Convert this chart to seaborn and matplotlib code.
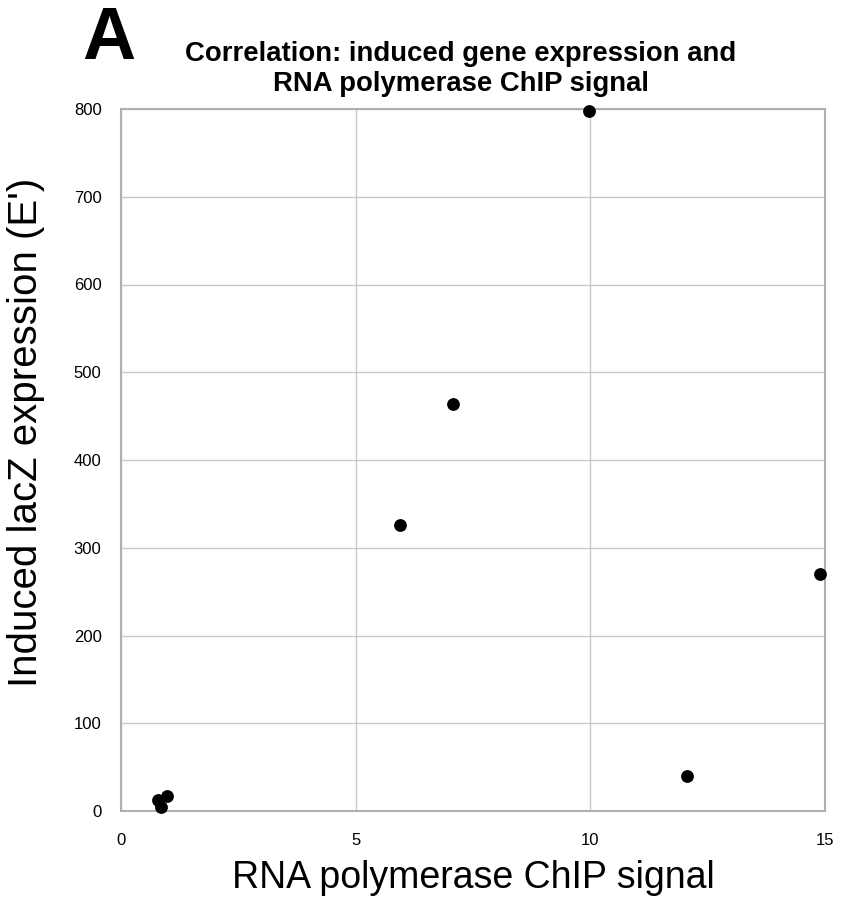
import matplotlib
matplotlib.use("Agg")
import matplotlib.pyplot as plt
import seaborn as sns
import pandas as pd

chip_signal = [0.78, 0.85, 0.98, 5.95, 7.07, 9.98, 12.07, 14.9]
lacz_expression = [12, 5, 17, 326, 464, 798, 40, 270]
x_ticks = [0, 5, 10, 15]
y_ticks = [0, 100, 200, 300, 400, 500, 600, 700, 800]

df = pd.DataFrame({"chip": chip_signal, "expr": lacz_expression})

sns.set_theme(style="whitegrid")
plt.rcParams['font.family'] = ['Liberation Sans', 'DejaVu Sans']
plt.rcParams['text.color'] = 'black'
plt.rcParams['axes.labelcolor'] = 'black'

fig = plt.figure(figsize=(8.42, 9.08), dpi=100)
ax = fig.add_axes([121/842, 1-811/908, (825-121)/842, (811-109)/908])

sns.scatterplot(data=df, x="chip", y="expr", ax=ax, color="black", s=85,
                edgecolor="black", linewidth=0, zorder=3, clip_on=False)

ax.set_xlim(0, 15)
ax.set_ylim(0, 800)
ax.set_xticks(x_ticks)
ax.set_yticks(y_ticks)
ax.tick_params(axis="both", labelsize=12, length=0, colors="black")
ax.tick_params(axis="y", pad=14)
ax.tick_params(axis="x", pad=16)
ax.grid(True, color="#c8c8c8", linewidth=1)
for sp in ax.spines.values():
    sp.set_color("#b0b0b0")
    sp.set_linewidth(1.5)

ax.set_xlabel("RNA polymerase ChIP signal", fontsize=27)
ax.xaxis.set_label_coords(0.5, -(860-811)/702)
ax.set_ylabel("Induced lacZ expression (E')", fontsize=29)
ax.yaxis.set_label_coords((45-121)/704, (811-432)/702)

fig.text(461/842, 1-69/908, "Correlation: induced gene expression and\nRNA polymerase ChIP signal",
         ha="center", va="center", fontsize=19.8, fontweight="bold", linespacing=1.2)
fig.text(82/842, 1-5/908, "A", ha="left", va="top", fontsize=53, fontweight="bold")

fig.savefig("out.png", dpi=100)
